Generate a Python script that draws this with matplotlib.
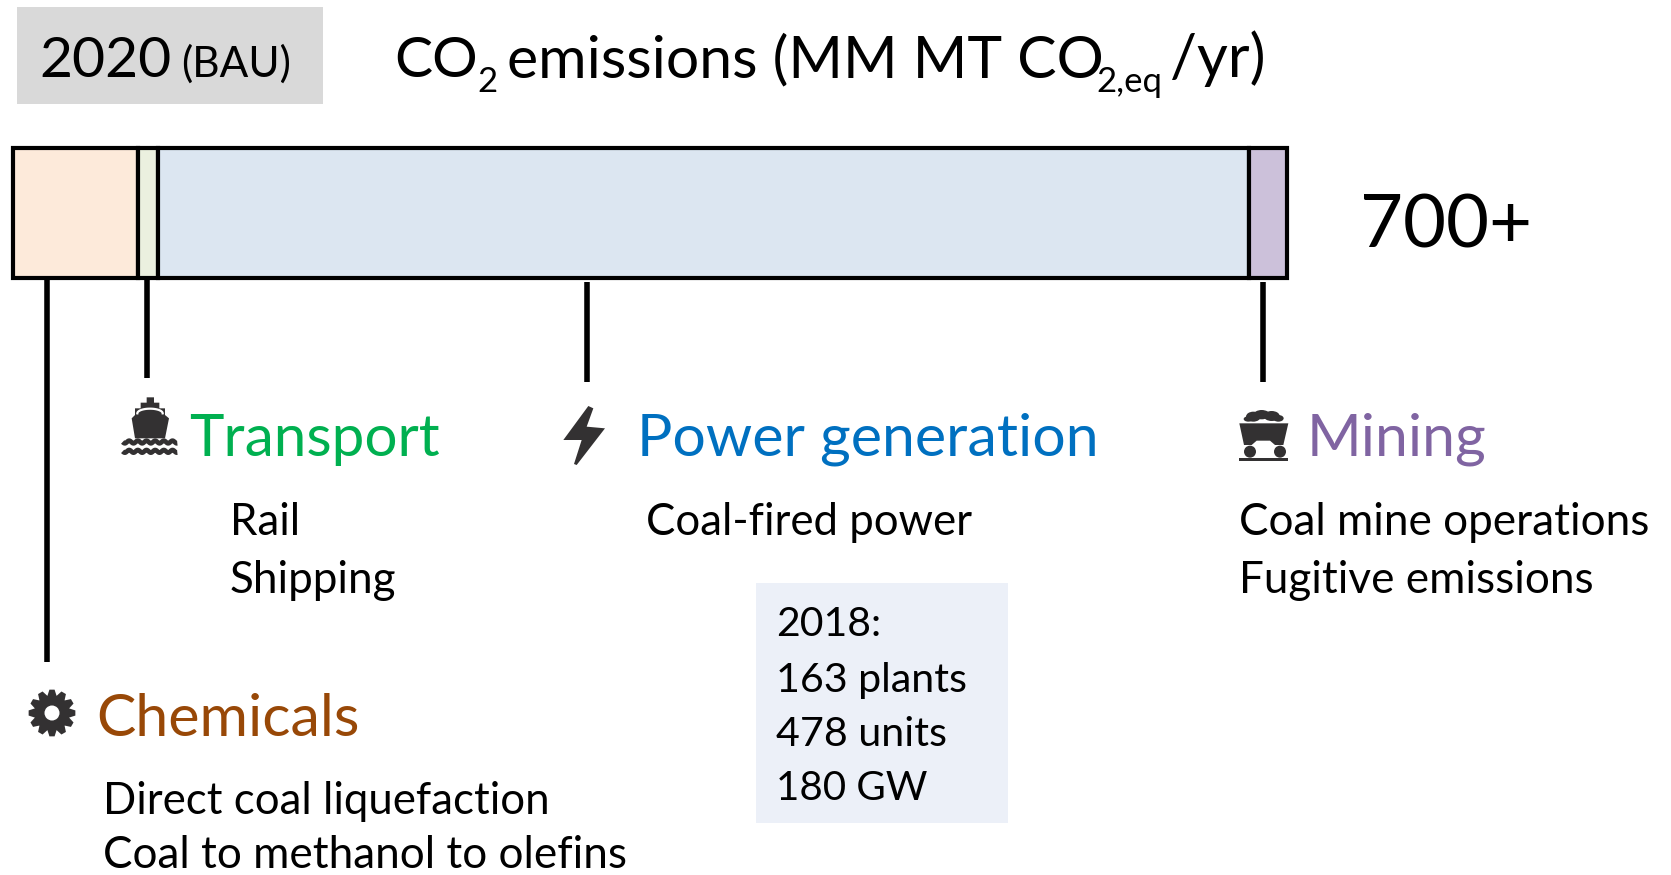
import numpy as np
import matplotlib
matplotlib.use('Agg')
import matplotlib.pyplot as plt
from matplotlib.patches import Polygon, Circle, Rectangle, Ellipse

plt.rcParams['font.family'] = ['Lato', 'DejaVu Sans']

# emissions by sector, MM MT CO2eq/yr
sectors = ['Chemicals', 'Transport', 'Power generation', 'Mining']
emissions = [69, 11, 600, 21]
bar_colors = ['#fdeada', '#ebf0df', '#dce6f1', '#ccc1da']
label_colors = ['#984807', '#00b050', '#0070c0', '#8064a2']

W, H = 1671, 875
ICON = '#333132'

fig = plt.figure(figsize=(W / 100, H / 100), dpi=100)

# background axes in pixels, y goes down
ax = fig.add_axes([0, 0, 1, 1])
ax.set_xlim(0, W)
ax.set_ylim(H, 0)
ax.axis('off')

# stacked bar
bar_ax = fig.add_axes([13 / W, 1 - 278 / H, 1274 / W, 130 / H])
bar_ax.set_xlim(0, sum(emissions))
bar_ax.set_ylim(0, 1)
bar_ax.axis('off')
left = 0
for v, c in zip(emissions, bar_colors):
    bar_ax.barh(0.5, v, height=1, left=left, color=c, edgecolor='black', linewidth=3, clip_on=False)
    left += v


def txt(x, y, s, size, color='black'):
    ax.text(x, y, s, fontsize=size, color=color, ha='left', va='baseline')


# header
ax.add_patch(Rectangle((17, 7), 306, 97, color='#d9d9d9', lw=0))
txt(39, 77, '2020', 41)
txt(181, 77, '(BAU)', 30.5)
txt(394, 77, 'CO', 41)
txt(477, 92, '2', 25)
txt(507, 77, 'emissions (MM MT CO', 42.4)
txt(1096, 92, '2,eq', 25)
txt(1170, 77, '/yr)', 43)
txt(1360, 247, '700+', 53.5)

# connectors
for x, y0, y1 in [(46.5, 279, 662), (146.5, 279, 378), (586.5, 282, 382), (1263, 282, 382)]:
    ax.plot([x, x], [y0, y1], color='black', lw=4, solid_capstyle='butt')

# sector labels
txt(96, 736, sectors[0], 42.5, label_colors[0])
txt(189, 456, sectors[1], 42, label_colors[1])
txt(637, 456, sectors[2], 42.5, label_colors[2])
txt(1307, 456, sectors[3], 42.5, label_colors[3])

txt(230, 535, 'Rail', 31.5)
txt(230, 593, 'Shipping', 31.7)
txt(646, 535, 'Coal-fired power', 31.5)
txt(1239, 535, 'Coal mine operations', 31.7)
txt(1239, 593, 'Fugitive emissions', 31.7)
txt(103, 814, 'Direct coal liquefaction', 31.5)
txt(103, 868, 'Coal to methanol to olefins', 31.7)

# 2018 box
ax.add_patch(Rectangle((756, 583), 252, 240, color='#ecf0f8', lw=0))
txt(776, 636, '2018:', 29.5)
txt(776, 692, '163 plants', 29.7)
txt(776, 746, '478 units', 29.7)
txt(776, 800, '180 GW', 29)

# ship icon
ship = np.array([(140, 52), (162, 52), (162, 68), (178, 68), (178, 85), (195, 85), (195, 105), (207, 115),
                 (195, 175), (105, 175), (95, 115), (105, 105), (105, 85), (122, 85), (122, 68), (140, 68)])
ax.add_patch(Polygon(ship / 3 + [100, 380], color=ICON, lw=0))
wx = np.linspace(68, 232, 80)
for base in (186, 214):
    ax.plot(wx / 3 + 100, (base + 4 * np.sin((wx - 68) / 26 * 2 * np.pi)) / 3 + 380, color=ICON, lw=3.4, solid_capstyle='butt')
arch_t = np.linspace(0, np.pi, 30)
ax.plot((150 + 38 * np.cos(arch_t)) / 3 + 100, (100 - 14 * np.sin(arch_t)) / 3 + 380, color='white', lw=1.6)

# bolt icon
bolt = np.array([(145, 48), (160, 55), (140, 110), (195, 115), (110, 225), (102, 222), (125, 150), (70, 150)])
ax.add_patch(Polygon(bolt / 3 + [540, 390], color=ICON, lw=0, joinstyle='round'))

# mine cart icon
cart = np.array([(58, 70), (205, 70), (190, 135), (165, 135), (150, 122), (110, 122), (95, 135), (72, 135)])
ax.add_patch(Polygon(cart / 3 + [1220, 400], color=ICON, lw=0))
for cx, cy, rx, ry in [(100, 50, 22, 15), (125, 44, 24, 14), (155, 48, 24, 15), (175, 55, 16, 10), (85, 57, 14, 8)]:
    ax.add_patch(Ellipse((cx / 3 + 1220, cy / 3 + 400), 2 * rx / 3, 2 * ry / 3, color=ICON, lw=0))
for cx in (90, 180):
    ax.add_patch(Circle((cx / 3 + 1220, 155 / 3 + 400), 6, color=ICON, lw=0))
ax.add_patch(Rectangle((58 / 3 + 1220, 173 / 3 + 400), 147 / 3, 9 / 3, color=ICON, lw=0))

# gear icon
gx, gy = 52, 713
angles = np.linspace(0, 2 * np.pi, 12, endpoint=False) + np.pi / 2
pts = []
for a in angles:
    for da, r in [(-0.27, 17.5), (-0.11, 23.5), (0.11, 23.5), (0.27, 17.5)]:
        pts.append((gx + r * np.cos(a + da), gy + r * np.sin(a + da)))
ax.add_patch(Polygon(pts, color=ICON, lw=0))
ax.add_patch(Circle((gx, gy), 7.5, color='white', lw=0))

fig.savefig('out.png', dpi=100)
